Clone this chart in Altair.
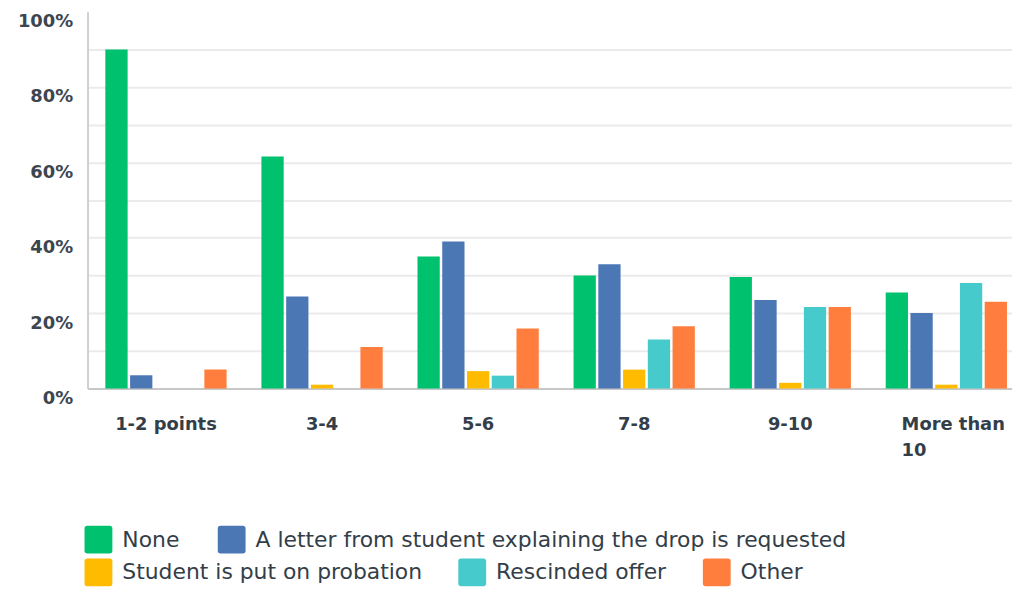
import altair as alt
import pandas as pd

categories = ["1-2 points", "3-4", "5-6", "7-8", "9-10", "More than 10"]
series_names = [
    "None",
    "A letter from student explaining the drop is requested",
    "Student is put on probation",
    "Rescinded offer",
    "Other",
]
none_vals = [90.0, 61.6, 35.0, 30.0, 29.6, 25.5]
letter_vals = [3.5, 24.4, 39.0, 33.0, 23.5, 20.0]
probation_vals = [0.0, 1.0, 4.6, 5.0, 1.5, 1.0]
rescinded_vals = [0.0, 0.0, 3.4, 13.0, 21.6, 28.0]
other_vals = [5.0, 11.0, 15.9, 16.5, 21.6, 23.0]
series_colors = ["#00C16E", "#4B77B5", "#FFBB00", "#47CACB", "#FF7E3E"]
grid_values = list(range(10, 100, 10))
label_values = list(range(0, 101, 20))

rows = []
for name, vals in zip(series_names, [none_vals, letter_vals, probation_vals, rescinded_vals, other_vals]):
    for c, v in zip(categories, vals):
        rows.append({"category": c, "series": name, "value": v})
df = pd.DataFrame(rows)

text_color = "#333E48"
rounded = "M-0.8,-1H0.8Q1,-1,1,-0.8V0.8Q1,1,0.8,1H-0.8Q-1,1,-1,0.8V-0.8Q-1,-1,-0.8,-1Z"
label_expr_x = "datum.value == 'More than 10' ? ['More than', '10'] : datum.label"
is_long = "datum.value == 'More than 10'"

x_enc = alt.X(
    "category:N",
    sort=categories,
    scale=alt.Scale(paddingInner=0.223, paddingOuter=0.0732, align=0.78),
    axis=alt.Axis(
        title=None, labelAngle=0, ticks=False, grid=False,
        domainColor="#C8C8C8", domainWidth=2,
        labelFont="DejaVu Sans", labelFontWeight="bold", labelFontSize=18,
        labelColor=text_color, labelPadding=27, labelExpr=label_expr_x,
        labelLineHeight=26,
        labelAlign={"condition": {"test": is_long, "value": "left"}, "value": "center"},
        labelOffset={"condition": {"test": is_long, "value": -45}, "value": 0},
    ),
)
xoff = alt.XOffset(
    "series:N", sort=series_names,
    scale=alt.Scale(domain=series_names, paddingInner=0.1, paddingOuter=0),
)
y_scale = alt.Scale(domain=[0, 100], nice=False)
y_grid = alt.Y(
    "value:Q", scale=y_scale,
    axis=alt.Axis(
        title=None, orient="left", values=grid_values, ticks=False, labels=False,
        domainColor="#D0D0D0", domainWidth=2,
        gridColor="#EBEBEB", gridWidth=2,
    ),
)
y_labels = alt.Y(
    "value:Q", scale=y_scale,
    axis=alt.Axis(
        title=None, orient="left", values=label_values, ticks=False, grid=False,
        domain=False, labelOffset=10, labelPadding=15,
        labelExpr="datum.value + '%'",
        labelFont="DejaVu Sans", labelFontWeight="bold", labelFontSize=18,
        labelColor="#3C4650",
    ),
)


def make_legend(ypos, pad):
    return alt.Legend(
        title=None, orient="none", direction="horizontal",
        legendX=-3, legendY=ypos,
        symbolType=rounded, symbolSize=784, symbolStrokeWidth=0, symbolOpacity=1,
        labelFont="DejaVu Sans", labelFontSize=22, labelColor=text_color,
        labelOffset=10, columnPadding=pad, labelLimit=800,
    )


first = series_names[:2]
rest = series_names[2:]

layer_a = alt.Chart(df).transform_filter(
    alt.FieldOneOfPredicate(field="series", oneOf=first)
).mark_bar().encode(
    x=x_enc, xOffset=xoff, y=y_grid,
    color=alt.Color("series:N", sort=first,
                    scale=alt.Scale(domain=first, range=series_colors[:2]),
                    legend=make_legend(517, 38)),
)

layer_b = alt.Chart(df).transform_filter(
    alt.FieldOneOfPredicate(field="series", oneOf=rest)
).mark_bar().encode(
    x=x_enc, xOffset=xoff, y=y_labels,
    color=alt.Color("series:N", sort=rest,
                    scale=alt.Scale(domain=rest, range=series_colors[2:]),
                    legend=make_legend(550, 36)),
)

chart = alt.layer(layer_a, layer_b).resolve_scale(color="independent").resolve_axis(
    y="independent"
).properties(
    width=930, height=379,
    background="white",
    autosize=alt.AutoSizeParams(type="none"),
    padding={"left": 80, "top": 2, "right": 0, "bottom": 199},
).configure_view(stroke="transparent", strokeWidth=0)

chart.save("out.html", embed_options={"renderer": "svg", "actions": False})
